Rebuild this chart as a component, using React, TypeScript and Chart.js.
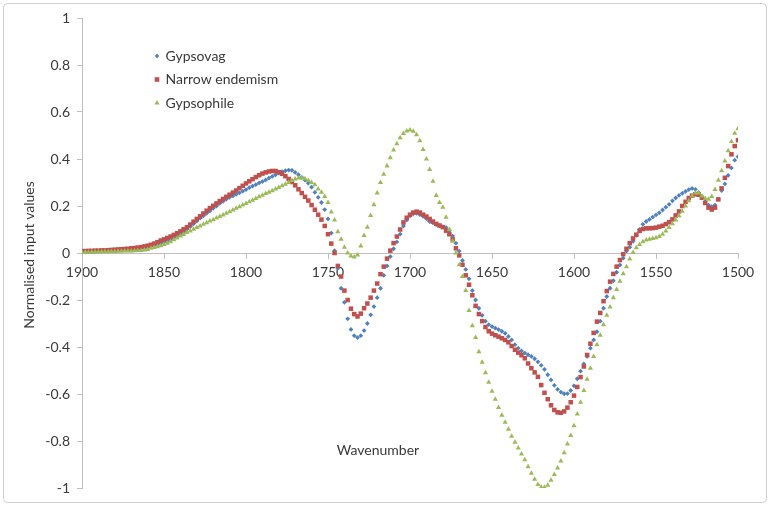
import React, { useEffect, useRef } from 'react';
import { Chart, registerables } from 'chart.js';

Chart.register(...registerables);

// ---- data ----
const wavenumbers = [
  1900, 1898, 1896, 1894, 1892, 1890, 1888, 1886, 1884, 1882,
  1880, 1878, 1876, 1874, 1872, 1870, 1868, 1866, 1864, 1862,
  1860, 1858, 1856, 1854, 1852, 1850, 1848, 1846, 1844, 1842,
  1840, 1838, 1836, 1834, 1832, 1830, 1828, 1826, 1824, 1822,
  1820, 1818, 1816, 1814, 1812, 1810, 1808, 1806, 1804, 1802,
  1800, 1798, 1796, 1794, 1792, 1790, 1788, 1786, 1784, 1782,
  1780, 1778, 1776, 1774, 1772, 1770, 1768, 1766, 1764, 1762,
  1760, 1758, 1756, 1754, 1752, 1750, 1748, 1746, 1744, 1742,
  1740, 1738, 1736, 1734, 1732, 1730, 1728, 1726, 1724, 1722,
  1720, 1718, 1716, 1714, 1712, 1710, 1708, 1706, 1704, 1702,
  1700, 1698, 1696, 1694, 1692, 1690, 1688, 1686, 1684, 1682,
  1680, 1678, 1676, 1674, 1672, 1670, 1668, 1666, 1664, 1662,
  1660, 1658, 1656, 1654, 1652, 1650, 1648, 1646, 1644, 1642,
  1640, 1638, 1636, 1634, 1632, 1630, 1628, 1626, 1624, 1622,
  1620, 1618, 1616, 1614, 1612, 1610, 1608, 1606, 1604, 1602,
  1600, 1598, 1596, 1594, 1592, 1590, 1588, 1586, 1584, 1582,
  1580, 1578, 1576, 1574, 1572, 1570, 1568, 1566, 1564, 1562,
  1560, 1558, 1556, 1554, 1552, 1550, 1548, 1546, 1544, 1542,
  1540, 1538, 1536, 1534, 1532, 1530, 1528, 1526, 1524, 1522,
  1520, 1518, 1516, 1514, 1512, 1510, 1508, 1506, 1504, 1502,
  1500,
];

const gypsovag = [
  0.005, 0.005, 0.006, 0.006, 0.006, 0.007, 0.007, 0.008, 0.008, 0.009,
  0.010, 0.011, 0.012, 0.013, 0.014, 0.016, 0.017, 0.019, 0.020, 0.022,
  0.024, 0.028, 0.032, 0.036, 0.042, 0.047, 0.052, 0.059, 0.065, 0.072,
  0.080, 0.090, 0.101, 0.112, 0.124, 0.136, 0.148, 0.158, 0.169, 0.179,
  0.190, 0.200, 0.211, 0.220, 0.229, 0.237, 0.243, 0.250, 0.256, 0.263,
  0.270, 0.278, 0.285, 0.291, 0.298, 0.304, 0.311, 0.319, 0.326, 0.333,
  0.340, 0.346, 0.350, 0.353, 0.352, 0.343, 0.333, 0.322, 0.310, 0.297,
  0.280, 0.258, 0.237, 0.215, 0.185, 0.145, 0.085, 0.010, -0.065, -0.150,
  -0.210, -0.280, -0.325, -0.352, -0.360, -0.352, -0.330, -0.300, -0.263, -0.228,
  -0.190, -0.150, -0.095, -0.055, -0.015, 0.018, 0.047, 0.080, 0.115, 0.140,
  0.158, 0.167, 0.169, 0.163, 0.156, 0.146, 0.134, 0.128, 0.121, 0.116,
  0.112, 0.108, 0.095, 0.072, 0.042, 0.008, -0.032, -0.070, -0.110, -0.160,
  -0.200, -0.235, -0.265, -0.290, -0.305, -0.313, -0.320, -0.326, -0.333, -0.342,
  -0.355, -0.370, -0.390, -0.405, -0.417, -0.426, -0.433, -0.440, -0.450, -0.463,
  -0.478, -0.495, -0.518, -0.540, -0.563, -0.580, -0.592, -0.599, -0.598, -0.585,
  -0.565, -0.535, -0.503, -0.472, -0.440, -0.405, -0.370, -0.335, -0.290, -0.235,
  -0.185, -0.150, -0.118, -0.082, -0.051, -0.022, 0.008, 0.025, 0.050, 0.075,
  0.100, 0.122, 0.134, 0.143, 0.153, 0.162, 0.171, 0.183, 0.195, 0.207,
  0.222, 0.234, 0.245, 0.254, 0.262, 0.270, 0.275, 0.271, 0.257, 0.237,
  0.218, 0.204, 0.197, 0.204, 0.229, 0.266, 0.294, 0.330, 0.362, 0.395,
  0.410,
];

const narrowEndemism = [
  0.008, 0.008, 0.009, 0.009, 0.010, 0.010, 0.011, 0.011, 0.012, 0.013,
  0.014, 0.015, 0.016, 0.017, 0.018, 0.020, 0.021, 0.023, 0.025, 0.028,
  0.031, 0.035, 0.040, 0.046, 0.053, 0.058, 0.064, 0.070, 0.077, 0.084,
  0.092, 0.101, 0.110, 0.121, 0.133, 0.145, 0.156, 0.168, 0.180, 0.191,
  0.201, 0.211, 0.221, 0.230, 0.239, 0.248, 0.257, 0.266, 0.276, 0.286,
  0.296, 0.305, 0.314, 0.323, 0.331, 0.338, 0.343, 0.347, 0.349, 0.349,
  0.344, 0.337, 0.327, 0.315, 0.302, 0.288, 0.271, 0.255, 0.239, 0.223,
  0.204, 0.184, 0.163, 0.142, 0.115, 0.080, 0.040, 0.000, -0.055, -0.100,
  -0.160, -0.200, -0.237, -0.260, -0.270, -0.258, -0.235, -0.215, -0.190, -0.160,
  -0.130, -0.090, -0.058, -0.024, 0.010, 0.042, 0.070, 0.100, 0.130, 0.150,
  0.163, 0.172, 0.176, 0.172, 0.163, 0.155, 0.145, 0.134, 0.124, 0.117,
  0.110, 0.095, 0.080, 0.058, 0.020, -0.010, -0.050, -0.095, -0.135, -0.180,
  -0.225, -0.260, -0.290, -0.315, -0.333, -0.343, -0.350, -0.356, -0.363, -0.370,
  -0.380, -0.396, -0.412, -0.424, -0.435, -0.448, -0.470, -0.490, -0.508, -0.527,
  -0.562, -0.595, -0.622, -0.648, -0.668, -0.678, -0.680, -0.674, -0.658, -0.635,
  -0.607, -0.570, -0.528, -0.483, -0.434, -0.386, -0.340, -0.292, -0.255, -0.205,
  -0.162, -0.122, -0.089, -0.058, -0.030, -0.005, 0.018, 0.042, 0.062, 0.078,
  0.094, 0.102, 0.105, 0.105, 0.106, 0.108, 0.112, 0.116, 0.123, 0.131,
  0.143, 0.160, 0.177, 0.200, 0.218, 0.234, 0.244, 0.250, 0.248, 0.235,
  0.213, 0.193, 0.185, 0.193, 0.228, 0.275, 0.320, 0.370, 0.420, 0.455,
  0.480,
];

const gypsophile = [
  0.003, 0.003, 0.003, 0.004, 0.004, 0.004, 0.005, 0.005, 0.005, 0.006,
  0.006, 0.007, 0.007, 0.008, 0.008, 0.009, 0.010, 0.011, 0.011, 0.013,
  0.015, 0.020, 0.023, 0.027, 0.031, 0.036, 0.042, 0.048, 0.056, 0.064,
  0.072, 0.079, 0.087, 0.094, 0.101, 0.108, 0.115, 0.122, 0.129, 0.136,
  0.142, 0.149, 0.155, 0.162, 0.169, 0.176, 0.183, 0.190, 0.197, 0.204,
  0.211, 0.218, 0.225, 0.232, 0.239, 0.246, 0.253, 0.259, 0.265, 0.272,
  0.279, 0.286, 0.293, 0.300, 0.308, 0.315, 0.319, 0.319, 0.316, 0.309,
  0.300, 0.290, 0.272, 0.258, 0.240, 0.215, 0.175, 0.140, 0.090, 0.058,
  0.024, 0.000, -0.013, -0.017, -0.008, 0.030, 0.075, 0.110, 0.160, 0.205,
  0.255, 0.300, 0.335, 0.370, 0.405, 0.438, 0.465, 0.490, 0.508, 0.519,
  0.523, 0.518, 0.503, 0.478, 0.440, 0.400, 0.355, 0.305, 0.245, 0.215,
  0.195, 0.152, 0.100, 0.050, 0.000, -0.050, -0.100, -0.160, -0.245, -0.310,
  -0.360, -0.420, -0.465, -0.510, -0.550, -0.588, -0.622, -0.657, -0.690, -0.720,
  -0.750, -0.780, -0.805, -0.830, -0.855, -0.880, -0.910, -0.937, -0.963, -0.985,
  -0.997, -0.997, -0.988, -0.967, -0.943, -0.915, -0.885, -0.850, -0.813, -0.777,
  -0.735, -0.685, -0.635, -0.585, -0.537, -0.490, -0.440, -0.390, -0.350, -0.305,
  -0.265, -0.230, -0.190, -0.155, -0.120, -0.088, -0.058, -0.025, 0.002, 0.022,
  0.036, 0.048, 0.055, 0.059, 0.062, 0.065, 0.070, 0.080, 0.094, 0.108,
  0.124, 0.140, 0.158, 0.178, 0.200, 0.222, 0.243, 0.255, 0.255, 0.243,
  0.232, 0.229, 0.240, 0.270, 0.310, 0.350, 0.392, 0.435, 0.475, 0.510,
  0.530,
];

const seriesLabels = ['Gypsovag', 'Narrow endemism', 'Gypsophile'];
const xTitle = 'Wavenumber';
const yTitle = 'Normalised input values';

// ---- styles ----
const BLUE = '#4F81BD';
const RED = '#C0504D';
const GREEN = '#9BBB59';
const AXIS = '#BFBFBF';
const TEXT = '#3a3a3a';
const FONT_FAMILY = 'Lato, "Open Sans", sans-serif';

function drawMarker(ctx: CanvasRenderingContext2D, style: string, x: number, y: number, color: string) {
  ctx.save();
  ctx.fillStyle = color;
  ctx.beginPath();
  if (style === 'rectRot') {
    const r = 2.3;
    ctx.moveTo(x, y - r);
    ctx.lineTo(x + r, y);
    ctx.lineTo(x, y + r);
    ctx.lineTo(x - r, y);
  } else if (style === 'rect') {
    const s = 2.3;
    ctx.rect(x - s, y - s, 2 * s, 2 * s);
  } else {
    const r = 3;
    ctx.moveTo(x, y - r);
    ctx.lineTo(x + r * 0.866, y + r * 0.5);
    ctx.lineTo(x - r * 0.866, y + r * 0.5);
  }
  ctx.closePath();
  ctx.fill();
  ctx.restore();
}

const decorPlugin = {
  id: 'decor',
  beforeDraw(chart: any) {
    const ctx: CanvasRenderingContext2D = chart.ctx;
    ctx.save();
    ctx.strokeStyle = '#D0D0D0';
    ctx.lineWidth = 1;
    ctx.beginPath();
    (ctx as any).roundRect(3.5, 3.5, chart.width - 7, chart.height - 7, 4);
    ctx.stroke();
    ctx.restore();
  },
  afterDraw(chart: any) {
    const ctx: CanvasRenderingContext2D = chart.ctx;
    const area = chart.chartArea;
    ctx.save();
    ctx.font = `14px ${FONT_FAMILY}`;
    ctx.fillStyle = TEXT;
    ctx.textBaseline = 'middle';
    // legend inside plot area
    const lx = area.left + 75;
    const ly = area.top + 38;
    chart.data.datasets.forEach((ds: any, i: number) => {
      const y = ly + i * 23.5;
      drawMarker(ctx, ds.pointStyle, lx, y, ds.backgroundColor);
      ctx.fillStyle = TEXT;
      ctx.textAlign = 'left';
      ctx.fillText(ds.label, lx + 8.5, y);
    });
    // x axis title (placed low in the plot area)
    ctx.textAlign = 'center';
    ctx.fillText(xTitle, area.left + 296, area.bottom - 38);
    // y axis title
    ctx.translate(29, (area.top + area.bottom) / 2 + 2);
    ctx.rotate(-Math.PI / 2);
    ctx.fillText(yTitle, 0, 0);
    ctx.restore();
  },
};

export default function App() {
  const ref = useRef<HTMLCanvasElement>(null);
  useEffect(() => {
    document.body.style.margin = '0';
    const mk = (vals: number[]) => vals.map((v, i) => ({ x: wavenumbers[i], y: v }));
    const font = { family: FONT_FAMILY, size: 14 };
    const chart = new Chart(ref.current as HTMLCanvasElement, {
      type: 'scatter',
      data: {
        datasets: [
          {
            label: seriesLabels[0], data: mk(gypsovag), pointStyle: 'rectRot', pointRadius: 2.4,
            backgroundColor: BLUE, borderColor: BLUE, borderWidth: 0, order: 3,
          },
          {
            label: seriesLabels[1], data: mk(narrowEndemism), pointStyle: 'rect', pointRadius: 3.2,
            backgroundColor: RED, borderColor: RED, borderWidth: 0, order: 2,
          },
          {
            label: seriesLabels[2], data: mk(gypsophile), pointStyle: 'triangle', pointRadius: 3,
            backgroundColor: GREEN, borderColor: GREEN, borderWidth: 0, order: 1,
          },
        ] as any,
      },
      options: {
        responsive: false,
        animation: false,
        events: [],
        layout: { padding: { left: 0, right: 32, top: 18, bottom: 18 } },
        plugins: { legend: { display: false }, tooltip: { enabled: false } },
        scales: {
          x: {
            type: 'linear',
            reverse: true,
            min: 1500,
            max: 1900,
            position: { y: 0 } as any,
            ticks: {
              stepSize: 50, font, color: TEXT, padding: 6, maxRotation: 0,
              callback: (v: any) => String(v),
            },
            grid: { drawOnChartArea: false, drawTicks: true, tickLength: 5, color: AXIS },
            border: { color: AXIS },
          },
          y: {
            min: -1,
            max: 1,
            ticks: {
              stepSize: 0.2, font, color: TEXT, padding: 7,
              callback: (v: any) => String(Math.round(Number(v) * 10) / 10),
            },
            grid: { drawOnChartArea: false, drawTicks: true, tickLength: 5, color: AXIS },
            border: { color: AXIS },
            afterFit: (s: any) => { s.width = 82; },
          },
        },
      } as any,
      plugins: [decorPlugin],
    });
    return () => chart.destroy();
  }, []);
  return (
    <div style={{ width: 770, height: 506 }}>
      <canvas ref={ref} width={770} height={506} />
    </div>
  );
}
